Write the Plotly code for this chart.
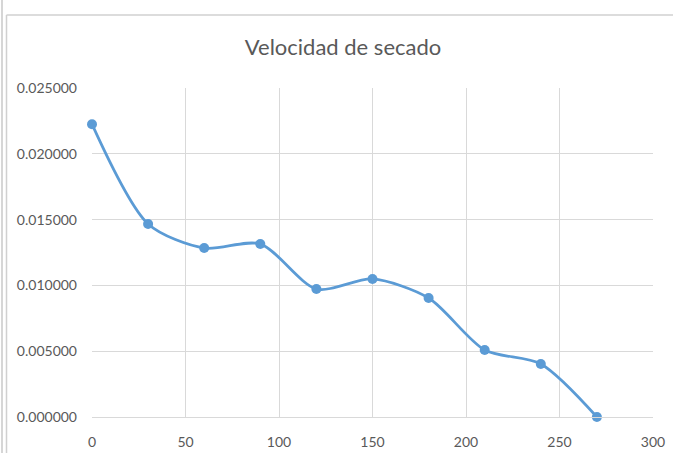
import plotly.graph_objects as go

# tiempo (min) y velocidad de secado
tiempo = [0, 30, 60, 90, 120, 150, 180, 210, 240, 270]
velocidad = [0.02225, 0.01467, 0.01284, 0.01315, 0.00973, 0.01049, 0.00904, 0.00509, 0.00403, 0.0]

x_ticks = [0, 50, 100, 150, 200, 250, 300]
y_ticks = [0, 0.005, 0.010, 0.015, 0.020, 0.025]

azul = "#5B9BD5"
gris = "#D9D9D9"
texto = "#595959"

w, h = 561, 329
def px_x(p):
    return (p - 92) / w
def px_y(p):
    return (417 - p) / h

fig = go.Figure()
fig.add_trace(go.Scatter(
    x=tiempo, y=velocidad, mode="lines+markers",
    line=dict(color=azul, width=2.75, shape="spline", smoothing=0.8),
    marker=dict(color=azul, size=10),
    showlegend=False, cliponaxis=False,
))

fig.update_layout(
    width=673, height=453,
    margin=dict(l=92, r=20, t=88, b=36, autoexpand=False),
    paper_bgcolor="white", plot_bgcolor="white",
    font=dict(family="Lato", color=texto, size=14),
    title=dict(text="Velocidad de secado", xref="paper", x=px_x(343), xanchor="center",
               yref="container", y=1 - 47 / 453, yanchor="middle",
               font=dict(size=22, color=texto)),
)

fig.update_xaxes(range=[0, 300], tickvals=x_ticks, showgrid=True, gridcolor=gris,
                 gridwidth=1, zeroline=False, showline=True, linecolor=gris,
                 ticks="", ticklabelstandoff=12, automargin=False,
                 tickfont=dict(size=14, color=texto))
fig.update_yaxes(range=[0, 0.025], tickvals=y_ticks, tickformat=".6f", showgrid=True,
                 gridcolor=gris, gridwidth=1, zeroline=False, showline=False,
                 ticks="", ticklabelstandoff=14, automargin=False,
                 tickfont=dict(size=14, color=texto))

# marco del grafico (bordes grises como en Excel)
fig.add_shape(type="line", xref="paper", yref="paper",
              x0=px_x(2), x1=px_x(2), y0=px_y(0), y1=px_y(453),
              line=dict(color="#C8C8C8", width=1.5))
fig.add_shape(type="line", xref="paper", yref="paper",
              x0=px_x(6.5), x1=px_x(6.5), y0=px_y(15), y1=px_y(453),
              line=dict(color="#D0D0D0", width=1.5))
fig.add_shape(type="line", xref="paper", yref="paper",
              x0=px_x(6.5), x1=px_x(673), y0=px_y(15), y1=px_y(15),
              line=dict(color="#D0D0D0", width=1.5))

# quitar el margen por defecto del body para que el grafico quede en (0, 0)
fig.write_html("out.html", config={"displayModeBar": False},
               post_script="document.body.style.margin='0px';")
